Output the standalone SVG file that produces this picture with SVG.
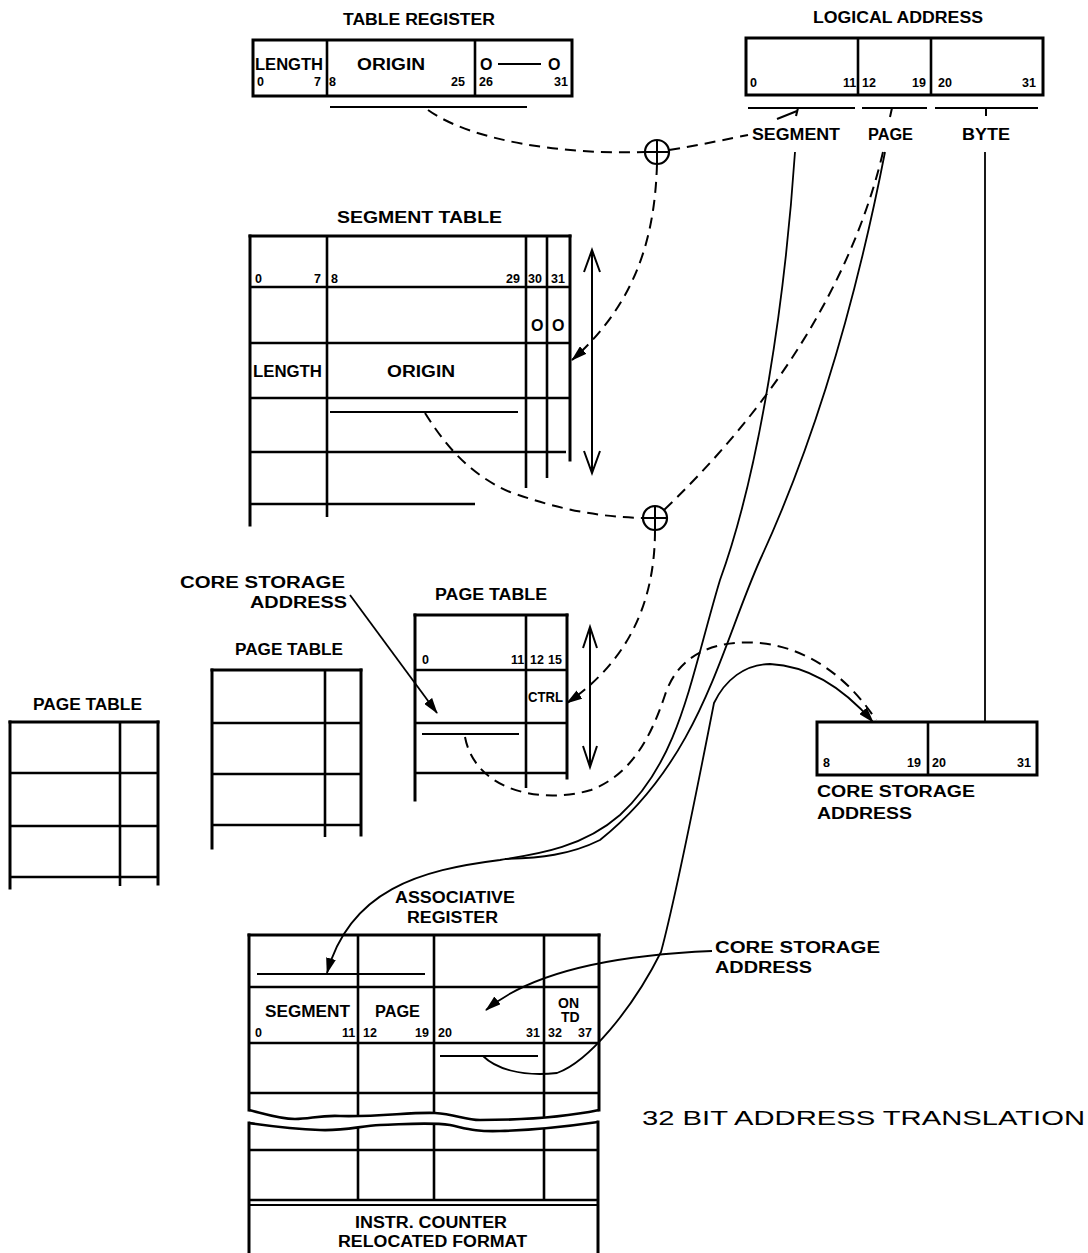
<svg xmlns="http://www.w3.org/2000/svg" width="1088" height="1253" viewBox="0 0 1088 1253">
<style>
.bx{fill:none;stroke:#000;stroke-width:3;stroke-linecap:square}
.ln{fill:none;stroke:#000;stroke-width:2.6}
.t{font-family:"Liberation Sans",Arial,sans-serif;font-weight:bold;font-size:16px;fill:#000}
.d{font-family:"Liberation Sans",Arial,sans-serif;font-weight:bold;font-size:12.5px;fill:#000}
.big{font-family:"Liberation Sans",Arial,sans-serif;font-size:21px;fill:#000}
.dash{fill:none;stroke:#000;stroke-width:2;stroke-dasharray:11 7}
.sol{fill:none;stroke:#000;stroke-width:1.8}
</style>
<defs>
<marker id="ah" viewBox="0 0 16 10" refX="15" refY="5" markerWidth="16" markerHeight="10" markerUnits="userSpaceOnUse" orient="auto"><path d="M0,0 L16,5 L0,10 Z" fill="#000"/></marker>
</defs>
<rect width="1088" height="1253" fill="#fff"/>

<g id="table-register">
<text class="t" x="343" y="25" textLength="152" lengthAdjust="spacingAndGlyphs">TABLE REGISTER</text>
<rect class="bx" x="253" y="40" width="319" height="56"/>
<line class="ln" x1="327" y1="40" x2="327" y2="96"/>
<line class="ln" x1="475" y1="40" x2="475" y2="96"/>
<text class="t" x="255" y="70" textLength="68" lengthAdjust="spacingAndGlyphs">LENGTH</text>
<text class="t" x="357" y="70" textLength="68" lengthAdjust="spacingAndGlyphs">ORIGIN</text>
<text class="t" x="480" y="70">O</text>
<line class="ln" x1="498" y1="64" x2="541" y2="64" style="stroke-width:1.8"/>
<text class="t" x="548" y="70">O</text>
<text class="d" x="257" y="86">0</text>
<text class="d" x="314" y="86">7</text>
<text class="d" x="329" y="86">8</text>
<text class="d" x="451" y="86">25</text>
<text class="d" x="479" y="86">26</text>
<text class="d" x="554" y="86">31</text>
<line class="ln" x1="330" y1="107" x2="527" y2="107" style="stroke-width:2"/>
</g>

<g id="logical-address">
<text class="t" x="813" y="23" textLength="170" lengthAdjust="spacingAndGlyphs">LOGICAL ADDRESS</text>
<rect class="bx" x="746" y="38" width="297" height="57"/>
<line class="ln" x1="858" y1="38" x2="858" y2="95"/>
<line class="ln" x1="931" y1="38" x2="931" y2="95"/>
<text class="d" x="750" y="87">0</text>
<text class="d" x="843" y="87">11</text>
<text class="d" x="862" y="87">12</text>
<text class="d" x="912" y="87">19</text>
<text class="d" x="938" y="87">20</text>
<text class="d" x="1022" y="87">31</text>
<line class="ln" x1="748" y1="108" x2="855" y2="108" style="stroke-width:2"/>
<line class="ln" x1="862" y1="108" x2="927" y2="108" style="stroke-width:2"/>
<line class="ln" x1="935" y1="108" x2="1038" y2="108" style="stroke-width:2"/>
<line class="ln" x1="798" y1="108" x2="796" y2="116" style="stroke-width:2"/>
<line class="ln" x1="892" y1="108" x2="890" y2="117" style="stroke-width:2"/>
<line class="ln" x1="986" y1="108" x2="986" y2="116" style="stroke-width:2"/>
<text class="t" x="752" y="140" textLength="88" lengthAdjust="spacingAndGlyphs">SEGMENT</text>
<text class="t" x="868" y="140" textLength="45" lengthAdjust="spacingAndGlyphs">PAGE</text>
<text class="t" x="962" y="140" textLength="48" lengthAdjust="spacingAndGlyphs">BYTE</text>
</g>

<g id="adder-1">
<circle cx="657" cy="152" r="12" fill="#fff" stroke="#000" stroke-width="2.2"/>
<line class="ln" x1="645" y1="152" x2="669" y2="152" style="stroke-width:2"/>
<line class="ln" x1="657" y1="140" x2="657" y2="164" style="stroke-width:2"/>
</g>

<g id="segment-table">
<text class="t" x="337" y="223" textLength="165" lengthAdjust="spacingAndGlyphs">SEGMENT  TABLE</text>
<line class="bx" x1="250" y1="236" x2="570" y2="236"/>
<line class="bx" x1="250" y1="236" x2="250" y2="525"/>
<line class="bx" x1="570" y1="236" x2="570" y2="460"/>
<line class="ln" x1="327" y1="236" x2="327" y2="517"/>
<line class="ln" x1="526" y1="236" x2="526" y2="488"/>
<line class="ln" x1="547" y1="236" x2="547" y2="478"/>
<line class="ln" x1="250" y1="287" x2="570" y2="287"/>
<line class="ln" x1="250" y1="343" x2="570" y2="343"/>
<line class="ln" x1="250" y1="398" x2="570" y2="398"/>
<line class="ln" x1="250" y1="452" x2="566" y2="452"/>
<line class="ln" x1="250" y1="504" x2="475" y2="504"/>
<text class="d" x="255" y="283">0</text>
<text class="d" x="314" y="283">7</text>
<text class="d" x="331" y="283">8</text>
<text class="d" x="506" y="283">29</text>
<text class="d" x="528" y="283">30</text>
<text class="d" x="551" y="283">31</text>
<text class="t" x="531" y="331">O</text>
<text class="t" x="552" y="331">O</text>
<text class="t" x="253" y="377" textLength="69" lengthAdjust="spacingAndGlyphs">LENGTH</text>
<text class="t" x="387" y="377" textLength="68" lengthAdjust="spacingAndGlyphs">ORIGIN</text>
<line class="ln" x1="330" y1="412" x2="518" y2="412" style="stroke-width:2"/>
<path class="ln" d="M592,252 L592,471 M584,272 L592,250 L600,272 M584,451 L592,473 L600,451" style="stroke-width:2"/>
</g>

<g id="adder-2">
<circle cx="655" cy="518" r="12" fill="#fff" stroke="#000" stroke-width="2.2"/>
<line class="ln" x1="643" y1="518" x2="667" y2="518" style="stroke-width:2"/>
<line class="ln" x1="655" y1="506" x2="655" y2="530" style="stroke-width:2"/>
</g>

<g id="page-table-main">
<text class="t" x="435" y="600" textLength="112" lengthAdjust="spacingAndGlyphs">PAGE TABLE</text>
<line class="bx" x1="415" y1="615" x2="567" y2="615"/>
<line class="bx" x1="415" y1="615" x2="415" y2="800"/>
<line class="bx" x1="567" y1="615" x2="567" y2="778"/>
<line class="ln" x1="526" y1="615" x2="526" y2="788"/>
<line class="ln" x1="415" y1="670" x2="567" y2="670"/>
<line class="ln" x1="415" y1="723" x2="567" y2="723"/>
<line class="ln" x1="415" y1="773" x2="567" y2="773"/>
<text class="d" x="422" y="664">0</text>
<text class="d" x="511" y="664">11</text>
<text class="d" x="530" y="664">12</text>
<text class="d" x="548" y="664">15</text>
<text class="t" x="528" y="702" textLength="35" lengthAdjust="spacingAndGlyphs" style="font-size:14px">CTRL</text>
<line class="ln" x1="422" y1="734" x2="519" y2="734" style="stroke-width:2"/>
<path class="ln" d="M590,629 L590,765 M583,648 L590,627 L597,648 M583,746 L590,767 L597,746" style="stroke-width:2"/>
</g>

<g id="page-table-middle">
<text class="t" x="235" y="655" textLength="108" lengthAdjust="spacingAndGlyphs">PAGE TABLE</text>
<line class="bx" x1="212" y1="670" x2="361" y2="670"/>
<line class="bx" x1="212" y1="670" x2="212" y2="848"/>
<line class="bx" x1="361" y1="670" x2="361" y2="835"/>
<line class="ln" x1="325" y1="670" x2="325" y2="837"/>
<line class="ln" x1="212" y1="723" x2="361" y2="723"/>
<line class="ln" x1="212" y1="774" x2="361" y2="774"/>
<line class="ln" x1="212" y1="825" x2="361" y2="825"/>
</g>

<g id="page-table-left">
<text class="t" x="33" y="710" textLength="109" lengthAdjust="spacingAndGlyphs">PAGE TABLE</text>
<line class="bx" x1="10" y1="722" x2="158" y2="722"/>
<line class="bx" x1="10" y1="722" x2="10" y2="888"/>
<line class="bx" x1="158" y1="722" x2="158" y2="884"/>
<line class="ln" x1="120" y1="722" x2="120" y2="886"/>
<line class="ln" x1="10" y1="773" x2="158" y2="773"/>
<line class="ln" x1="10" y1="826" x2="158" y2="826"/>
<line class="ln" x1="10" y1="877" x2="158" y2="877"/>
</g>

<g id="core-storage-label-1">
<text class="t" x="180" y="588" textLength="165" lengthAdjust="spacingAndGlyphs">CORE  STORAGE</text>
<text class="t" x="250" y="608" textLength="97" lengthAdjust="spacingAndGlyphs">ADDRESS</text>
</g>

<g id="core-storage-address">
<rect class="bx" x="817" y="722" width="220" height="53"/>
<line class="ln" x1="928" y1="722" x2="928" y2="775"/>
<text class="d" x="823" y="767">8</text>
<text class="d" x="907" y="767">19</text>
<text class="d" x="932" y="767">20</text>
<text class="d" x="1017" y="767">31</text>
<text class="t" x="817" y="797" textLength="158" lengthAdjust="spacingAndGlyphs">CORE  STORAGE</text>
<text class="t" x="817" y="819" textLength="95" lengthAdjust="spacingAndGlyphs">ADDRESS</text>
</g>

<g id="associative-register">
<text class="t" x="395" y="903" textLength="120" lengthAdjust="spacingAndGlyphs">ASSOCIATIVE</text>
<text class="t" x="407" y="923" textLength="91" lengthAdjust="spacingAndGlyphs">REGISTER</text>
<line class="bx" x1="249" y1="935" x2="599" y2="935"/>
<line class="bx" x1="249" y1="935" x2="249" y2="1110"/>
<line class="bx" x1="599" y1="935" x2="599" y2="1110"/>
<line class="ln" x1="358" y1="935" x2="358" y2="1117"/>
<line class="ln" x1="434" y1="935" x2="434" y2="1114"/>
<line class="ln" x1="544" y1="935" x2="544" y2="1118"/>
<line class="ln" x1="249" y1="987" x2="599" y2="987"/>
<line class="ln" x1="249" y1="1043" x2="599" y2="1043"/>
<line class="ln" x1="249" y1="1093" x2="599" y2="1093"/>
<line class="ln" x1="257" y1="974" x2="425" y2="974" style="stroke-width:2"/>
<line class="ln" x1="440" y1="1056" x2="538" y2="1056" style="stroke-width:2"/>
<text class="t" x="265" y="1017" textLength="85" lengthAdjust="spacingAndGlyphs">SEGMENT</text>
<text class="t" x="375" y="1017" textLength="45" lengthAdjust="spacingAndGlyphs">PAGE</text>
<text class="t" x="558" y="1008" style="font-size:14px">ON</text>
<text class="t" x="561" y="1022" style="font-size:14px">TD</text>
<text class="d" x="255" y="1037">0</text>
<text class="d" x="342" y="1037">11</text>
<text class="d" x="363" y="1037">12</text>
<text class="d" x="415" y="1037">19</text>
<text class="d" x="438" y="1037">20</text>
<text class="d" x="526" y="1037">31</text>
<text class="d" x="548" y="1037">32</text>
<text class="d" x="578" y="1037">37</text>
<path class="ln" d="M249,1110 C265,1114 280,1119 295,1119 C310,1119 320,1115 340,1116 C380,1117 410,1112 435,1113 C455,1114 465,1120 480,1120 C510,1120 560,1118 599,1110"/>
<path class="ln" d="M249,1123 C270,1126 290,1129 320,1130 C345,1131 360,1126 380,1125 C410,1124 430,1122 450,1125 C465,1128 475,1132 500,1131 C540,1130 570,1126 598,1122"/>
<line class="bx" x1="249" y1="1123" x2="249" y2="1253"/>
<line class="bx" x1="598" y1="1122" x2="598" y2="1253"/>
<line class="ln" x1="358" y1="1127" x2="358" y2="1200"/>
<line class="ln" x1="434" y1="1123" x2="434" y2="1200"/>
<line class="ln" x1="544" y1="1129" x2="544" y2="1200"/>
<line class="ln" x1="249" y1="1150" x2="598" y2="1150"/>
<line class="ln" x1="249" y1="1200" x2="598" y2="1200"/>
<line class="ln" x1="249" y1="1205" x2="598" y2="1205" style="stroke-width:2"/>
<text class="t" x="355" y="1228" textLength="152" lengthAdjust="spacingAndGlyphs">INSTR. COUNTER</text>
<text class="t" x="338" y="1247" textLength="189" lengthAdjust="spacingAndGlyphs">RELOCATED FORMAT</text>
</g>

<g id="core-storage-label-2">
<text class="t" x="715" y="953" textLength="165" lengthAdjust="spacingAndGlyphs">CORE  STORAGE</text>
<text class="t" x="715" y="973" textLength="97" lengthAdjust="spacingAndGlyphs">ADDRESS</text>
</g>

<g id="caption">
<text class="big" x="642" y="1125" textLength="443" lengthAdjust="spacingAndGlyphs">32 BIT ADDRESS TRANSLATION</text>
</g>

<g id="connectors">
<path class="dash" d="M428,110 C470,140 560,155 645,152"/>
<path class="dash" d="M669,150 C700,145 728,139 748,135"/>
<path class="dash" d="M777,119 L797,111" style="stroke-dasharray:none"/>
<path class="dash" d="M657,164 C655,230 640,300 572,360" marker-end="url(#ah)"/>
<path class="dash" d="M425,413 C445,445 470,475 510,492 C560,510 600,517 643,518"/>
<path class="dash" d="M883,152 C860,250 800,380 664,510"/>
<path class="dash" d="M655,530 C655,600 630,660 567,703" marker-end="url(#ah)"/>
<path class="dash" d="M465,737 C475,790 540,805 591,790 C630,775 650,740 665,695 C680,650 720,640 760,643 C810,648 850,680 876,720"/>
<path class="sol" d="M795,152 C785,300 760,470 720,580 C690,680 680,760 620,815 C580,850 530,855 500,860 C420,870 350,890 327,973" marker-end="url(#ah)"/>
<path class="sol" d="M885,152 C860,280 820,430 760,560 C720,650 700,760 600,840 C570,855 540,858 505,859"/>
<line class="sol" x1="985" y1="152" x2="985" y2="722"/>
<line class="sol" x1="350" y1="595" x2="437" y2="713" marker-end="url(#ah)"/>
<path class="sol" d="M483,1056 C495,1068 520,1077 557,1073 C588,1062 632,1010 661,952 C675,900 695,800 714,703 C725,680 745,664 770,664 C810,666 845,690 873,722" marker-end="url(#ah)"/>
<path class="sol" d="M712,951 C640,954 540,965 486,1010" marker-end="url(#ah)"/>
</g>
</svg>
